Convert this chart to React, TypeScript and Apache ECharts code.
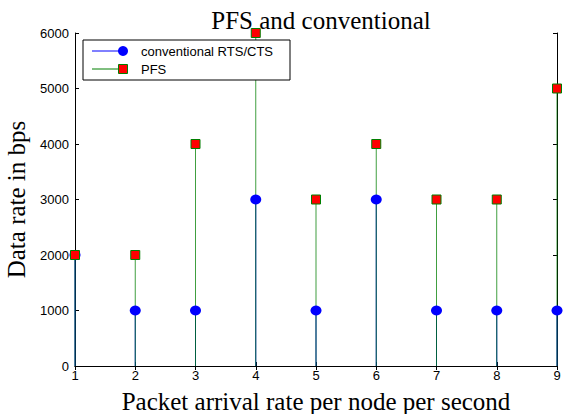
import React, { useEffect, useRef } from "react";
import * as echarts from "echarts";

const xValues = [1, 2, 3, 4, 5, 6, 7, 8, 9];
const conventional = [2000, 1000, 1000, 3000, 1000, 3000, 1000, 1000, 1000];
const pfs = [2000, 2000, 4000, 6000, 3000, 4000, 3000, 3000, 5000];

const BLUE = "#0000ff";
const GREEN = "#007f00";
const RED = "#ff0000";

export default function App() {
  const ref = useRef<HTMLDivElement>(null);
  useEffect(() => {
    if (!ref.current) return;
    const chart = echarts.init(ref.current, undefined, { renderer: "svg" });
    const convData = xValues.map((x, i) => [x, conventional[i]]);
    const pfsData = xValues.map((x, i) => [x, pfs[i]]);
    const sans = "Liberation Sans, Arial, sans-serif";
    const serif = "Liberation Serif, Times New Roman, serif";
    const tickCommon = { inside: true, length: 4, lineStyle: { color: "#000" } };
    chart.setOption({
      animation: false,
      backgroundColor: "#fff",
      title: {
        text: "PFS and conventional",
        left: 316,
        textAlign: "center",
        top: 3,
        textStyle: { fontFamily: serif, fontSize: 25, fontWeight: "normal", color: "#000" },
      },
      grid: {
        left: 75,
        right: 6,
        top: 33,
        bottom: 48,
        containLabel: false,
        outerBoundsMode: "none",
      },
      xAxis: [
        {
          type: "value",
          min: 1,
          max: 9,
          interval: 1,
          name: "Packet arrival rate per node per second",
          nameLocation: "middle",
          nameGap: 23,
          nameTextStyle: { fontFamily: serif, fontSize: 25, color: "#000" },
          axisLine: { lineStyle: { color: "#000", width: 1 } },
          axisTick: tickCommon,
          axisLabel: { fontFamily: sans, fontSize: 13, color: "#000", margin: 3 },
          splitLine: { show: false },
        },
        {
          type: "value",
          position: "top",
          min: 1,
          max: 9,
          interval: 1,
          axisLine: { show: true, lineStyle: { color: "#000", width: 1 } },
          axisTick: tickCommon,
          axisLabel: { show: false },
          splitLine: { show: false },
        },
      ],
      yAxis: [
        {
          type: "value",
          min: 0,
          max: 6000,
          interval: 1000,
          name: "Data rate in bps",
          nameLocation: "middle",
          nameGap: 38,
          nameTextStyle: { fontFamily: serif, fontSize: 25, color: "#000" },
          axisLine: { show: true, lineStyle: { color: "#000", width: 1 } },
          axisTick: tickCommon,
          axisLabel: {
            fontFamily: sans,
            fontSize: 13,
            color: "#000",
            margin: 6,
            formatter: (v: number) => String(v),
          },
          splitLine: { show: false },
        },
        {
          type: "value",
          position: "right",
          min: 0,
          max: 6000,
          interval: 1000,
          axisLine: { show: true, lineStyle: { color: "#000", width: 1 } },
          axisTick: tickCommon,
          axisLabel: { show: false },
          splitLine: { show: false },
        },
      ],
      series: [
        {
          type: "bar",
          data: convData,
          barWidth: 1,
          barGap: "-100%",
          itemStyle: { color: BLUE },
          z: 2,
        },
        {
          type: "bar",
          data: pfsData,
          barWidth: 1,
          barGap: "-100%",
          itemStyle: { color: GREEN, opacity: 0.75 },
          z: 3,
        },
        {
          type: "scatter",
          data: convData,
          symbol: "circle",
          symbolSize: [11, 10],
          clip: false,
          itemStyle: { color: BLUE, opacity: 1 },
          z: 4,
        },
        {
          type: "scatter",
          data: pfsData,
          symbol: "rect",
          symbolSize: 9,
          clip: false,
          itemStyle: { color: RED, borderColor: GREEN, borderWidth: 1, opacity: 1 },
          z: 5,
        },
      ],
      graphic: [
        {
          type: "rect",
          shape: { x: 83, y: 40, width: 207, height: 40 },
          style: { fill: "#fff", stroke: "#000", lineWidth: 1 },
          z: 10,
        },
        {
          type: "line",
          shape: { x1: 92, y1: 51, x2: 123, y2: 51 },
          style: { stroke: BLUE, lineWidth: 1 },
          z: 11,
        },
        {
          type: "circle",
          shape: { cx: 123, cy: 51, r: 5 },
          style: { fill: BLUE },
          z: 11,
        },
        {
          type: "text",
          x: 141,
          y: 51,
          style: { text: "conventional RTS/CTS", fontFamily: sans, fontSize: 13, fill: "#000", verticalAlign: "middle" },
          z: 11,
        },
        {
          type: "line",
          shape: { x1: 92, y1: 69, x2: 123, y2: 69 },
          style: { stroke: GREEN, lineWidth: 1 },
          z: 11,
        },
        {
          type: "rect",
          shape: { x: 118.5, y: 64.5, width: 9, height: 9 },
          style: { fill: RED, stroke: GREEN, lineWidth: 1 },
          z: 11,
        },
        {
          type: "text",
          x: 141,
          y: 69,
          style: { text: "PFS", fontFamily: sans, fontSize: 13, fill: "#000", verticalAlign: "middle" },
          z: 11,
        },
      ],
    });
    return () => chart.dispose();
  }, []);
  return <div ref={ref} style={{ width: 563, height: 414, position: "absolute", left: 0, top: 0 }} />;
}
